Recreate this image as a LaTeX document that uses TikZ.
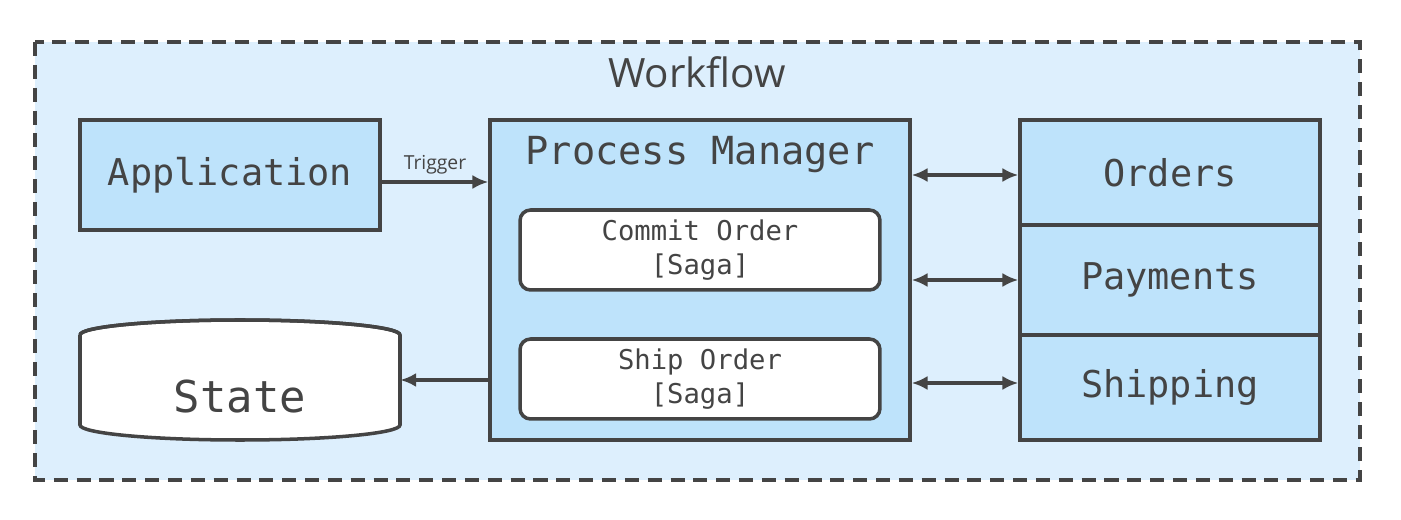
\documentclass[tikz,border=0pt]{standalone}
\usepackage{fontspec}
\setmainfont{Open Sans}
\setmonofont{DejaVu Sans Mono}
\usetikzlibrary{positioning,arrows.meta}
\definecolor{bgblue}{HTML}{DDEFFD}
\definecolor{boxblue}{HTML}{BEE3FB}
\definecolor{ink}{HTML}{444444}
\begin{document}
\begin{tikzpicture}[x=0.02cm, y=-0.02cm,
        every node/.style={text=ink},
        box/.style={rectangle, draw=ink, line width=2pt, fill=boxblue, inner sep=0pt,
          font=\ttfamily\fontsize{21}{24}\selectfont},
        saga/.style={rectangle, rounded corners=6pt, draw=ink, line width=2pt, fill=white,
          align=center, inner sep=0pt, minimum width=7.2cm, minimum height=1.6cm,
          font=\ttfamily\fontsize{15.5}{19}\selectfont},
        link/.style={draw=ink, line width=2pt, -{Latex[length=9pt,width=8pt]}},
        both/.style={link, {Latex[length=9pt,width=8pt]}-{Latex[length=9pt,width=8pt]}},
      ]
      \useasboundingbox (0,0) rectangle (1401,520);
      % workflow frame
      \draw[ink, line width=2pt, dash pattern=on 8pt off 5pt, fill=bgblue]
        (35,42) rectangle (1360,480);
      \node[font=\fontsize{23}{26}\selectfont] (wf) at (697,72) {Workflow};
      % boxes
      \node[box, minimum width=6cm, minimum height=2.2cm] (app) at (230,175) {Application};
      \node[box, minimum width=8.4cm, minimum height=6.4cm] (pm) at (700,280) {};
      \node[font=\ttfamily\fontsize{22}{24}\selectfont] (pmtitle) at (700,155) {Process Manager};
      \node[saga] (commit) at (700,250) {Commit Order\\{[Saga]}};
      \node[saga] (ship) at (700,379) {Ship Order\\{[Saga]}};
      \node[box, minimum width=6cm, minimum height=2.1cm] (orders) at (1170,172.5) {Orders};
      \node[box, minimum width=6cm, minimum height=2.2cm] (payments) at (1170,280) {Payments};
      \node[box, minimum width=6cm, minimum height=2.1cm] (shipping) at (1170,387.5) {Shipping};
      % state store
      \node[minimum width=6.4cm, minimum height=2.4cm, inner sep=0pt] (state) at (240,380) {};
      \draw[ink, line width=2pt, fill=white]
        (80,335) -- (80,425) arc[start angle=180, end angle=360, x radius=160, y radius=-15]
        -- (400,335) arc[start angle=0, end angle=180, x radius=160, y radius=-15];
      \draw[ink, line width=2pt]
        (80,335) arc[start angle=180, end angle=360, x radius=160, y radius=15];
      \node[font=\ttfamily\fontsize{25}{28}\selectfont] at (240,397) {State};
      % connectors
      \draw[link] (app.east |- 0,182) -- node[above, font=\fontsize{11}{13}\selectfont] {Trigger} (pm.west |- 0,182);
      \draw[link] (pm.west |- 0,380) -- (state.east);
      \draw[both] (pm.east |- 0,175) -- (orders.west |- 0,175);
      \draw[both] (pm.east |- 0,280) -- (payments.west);
      \draw[both] (pm.east |- 0,383) -- (shipping.west |- 0,383);
\end{tikzpicture}
\end{document}
